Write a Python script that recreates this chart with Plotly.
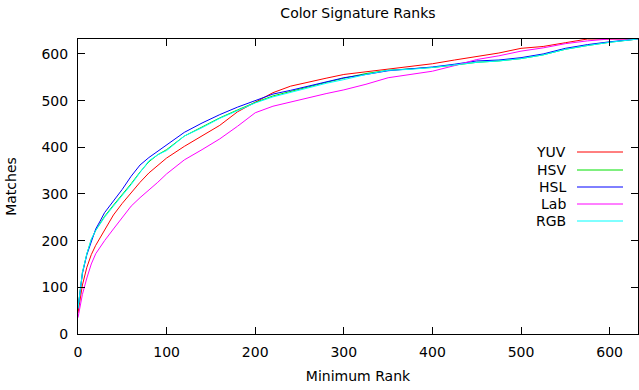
import plotly.graph_objects as go

rank = [0, 2, 5, 10, 15, 20, 25, 30, 40, 50, 60, 70, 80, 90, 100, 120, 140, 160, 180, 200,
        220, 240, 260, 280, 300, 325, 350, 375, 400, 425, 450, 475, 500, 525, 550, 575, 600, 632]

yuv = [45, 70, 105, 143, 170, 190, 206, 222, 255, 280, 303, 325, 345, 362, 377, 402, 425, 447, 476, 497,
       517, 531, 540, 548, 556, 562, 567, 573, 579, 587, 595, 602, 612, 616, 624, 632, 632, 632]
hsv = [55, 90, 132, 172, 202, 222, 238, 252, 276, 298, 322, 347, 369, 384, 395, 424, 443, 463, 480, 496,
       510, 520, 530, 539, 548, 558, 565, 568, 571, 576, 582, 585, 590, 598, 610, 618, 625, 632]
hsl = [55, 90, 130, 170, 200, 225, 242, 260, 285, 310, 338, 362, 378, 392, 405, 432, 452, 470, 486, 500,
       514, 522, 531, 540, 549, 556, 564, 568, 572, 578, 585, 587, 592, 600, 612, 620, 626, 632]
lab = [35, 55, 85, 120, 150, 172, 187, 200, 225, 250, 274, 292, 308, 325, 343, 373, 395, 418, 445, 474,
       488, 497, 507, 515, 523, 535, 549, 556, 563, 575, 588, 596, 606, 613, 622, 628, 632, 632]
rgb = [55, 90, 132, 172, 203, 222, 236, 250, 274, 296, 320, 346, 371, 384, 393, 424, 442, 462, 479, 495,
       508, 518, 528, 537, 545, 556, 565, 567, 571, 576, 582, 585, 590, 598, 610, 618, 625, 632]

names = ["YUV", "HSV", "HSL", "Lab", "RGB"]
series = [yuv, hsv, hsl, lab, rgb]
colors = ["#ff0000", "#00e000", "#0000ff", "#ff00ff", "#00ffff"]

x_ticks = [0, 100, 200, 300, 400, 500, 600]
y_ticks = [0, 100, 200, 300, 400, 500, 600]

FONT = "DejaVu Sans"
FS = 14

fig = go.Figure()
for n, s, c in zip(names, series, colors):
    fig.add_trace(go.Scatter(x=rank, y=s, mode="lines", name=n,
                             line=dict(color=c, width=1), showlegend=False))

# manual gnuplot-style key (text left, sample right)
W, H = 639, 390
L, R, T, B = 78, 1, 39, 56
pw, ph = W - L - R, H - T - B
key_y = [152, 170, 187, 204, 221]
for n, c, py in zip(names, colors, key_y):
    yp = (H - B - py) / ph
    fig.add_annotation(x=(568 - L) / pw, y=yp, xref="paper", yref="paper", text=n,
                       showarrow=False, xanchor="right", yanchor="middle",
                       font=dict(family=FONT, size=FS, color="black"))
    fig.add_shape(type="line", xref="paper", yref="paper",
                  x0=(577 - L) / pw, x1=(623 - L) / pw, y0=yp, y1=yp,
                  line=dict(color=c, width=1))

axis_common = dict(showline=True, linecolor="black", linewidth=1, mirror="ticks",
                   ticks="inside", ticklen=7, tickcolor="black", showgrid=False,
                   zeroline=False, tickfont=dict(family=FONT, size=FS, color="black"))

fig.update_layout(
    width=W, height=H,
    margin=dict(l=L, r=R, t=T, b=B),
    paper_bgcolor="white", plot_bgcolor="white",
    title=dict(text="Color Signature Ranks", x=0.5, xref="paper", xanchor="center",
               y=1 - 13 / H, yref="container", yanchor="middle",
               font=dict(family=FONT, size=FS, color="black")),
    xaxis=dict(range=[0, 632], tickvals=x_ticks, ticklabelstandoff=5,
               title=dict(text="Minimum Rank", font=dict(family=FONT, size=FS, color="black"), standoff=12),
               **axis_common),
    yaxis=dict(range=[0, 632], tickvals=y_ticks, ticklabelstandoff=6,
               title=dict(text="Matches", font=dict(family=FONT, size=FS, color="black"), standoff=21),
               **axis_common),
)

fig.write_html("out.html")
